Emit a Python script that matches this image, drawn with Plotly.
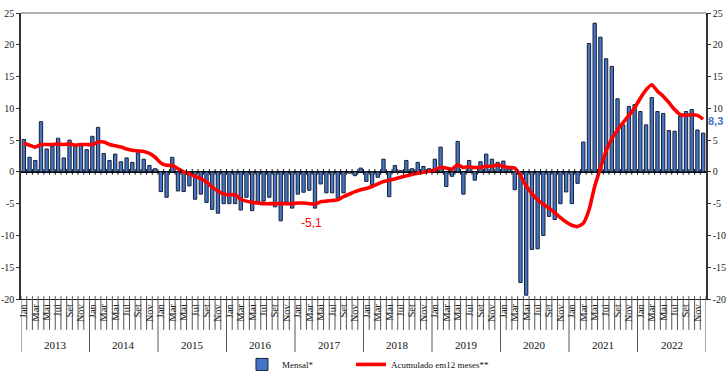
import plotly.graph_objects as go

month_names = ["Jan", "Fev", "Mar", "Abr", "Mai", "Jun", "Jul", "Ago", "Set", "Out", "Nov", "Dez"]
years = [2013, 2014, 2015, 2016, 2017, 2018, 2019, 2020, 2021, 2022]

mensal_2013 = [5.1, 2.3, 1.8, 7.9, 3.6, 4.0, 5.3, 2.2, 5.0, 4.0, 4.2, 3.5]
mensal_2014 = [5.6, 7.0, 2.9, 1.8, 2.8, 1.6, 2.2, 1.5, 3.0, 2.0, 1.0, 0.5]
mensal_2015 = [-3.1, -4.0, 2.3, -3.0, -3.1, -2.2, -4.3, -3.5, -4.8, -5.9, -6.5, -5.0]
mensal_2016 = [-5.0, -5.0, -6.0, -4.0, -6.1, -4.9, -4.6, -4.0, -5.5, -7.7, -4.8, -5.7]
mensal_2017 = [-3.5, -3.2, -2.9, -5.7, -1.9, -3.3, -3.3, -4.1, -3.3, -0.2, -0.6, 0.6]
mensal_2018 = [-1.5, -2.0, -0.85, 2.0, -3.9, 1.0, 0.2, 1.8, 0.5, 1.5, 0.85, 0.5]
mensal_2019 = [2.0, 3.9, -2.3, -0.7, 4.8, -3.5, 1.8, -1.3, 1.6, 2.8, 2.0, 1.5]
mensal_2020 = [1.7, 0.6, -2.8, -17.4, -19.4, -12.2, -12.1, -10.0, -7.0, -7.5, -5.0, -3.15]
mensal_2021 = [-5.0, -1.8, 4.7, 20.2, 23.4, 21.2, 17.8, 16.6, 11.5, 7.4, 10.3, 10.6]
mensal_2022 = [9.5, 7.4, 11.7, 9.5, 9.2, 6.5, 6.4, 8.8, 9.5, 9.8, 6.6, 6.1]

acum_2013 = [4.5, 4.2, 3.9, 4.3, 4.3, 4.3, 4.4, 4.3, 4.4, 4.2, 4.3, 4.3]
acum_2014 = [4.3, 4.7, 4.7, 4.3, 4.1, 3.9, 3.6, 3.4, 3.3, 3.2, 2.9, 2.3]
acum_2015 = [1.4, 1.05, 1.0, 0.5, 0.0, -0.3, -0.7, -1.05, -1.6, -2.4, -3.0, -3.5]
acum_2016 = [-3.6, -3.6, -4.3, -4.6, -4.8, -4.9, -5.0, -5.0, -5.0, -5.0, -5.0, -5.0]
acum_2017 = [-4.9, -4.9, -5.0, -5.1, -4.7, -4.6, -4.5, -4.4, -3.9, -3.5, -3.1, -2.8]
acum_2018 = [-2.6, -2.3, -1.9, -1.5, -1.3, -1.1, -0.85, -0.6, -0.4, -0.2, -0.05, 0.1]
acum_2019 = [0.3, 0.7, 0.6, 0.4, 1.1, 0.7, 0.8, 0.7, 0.7, 0.9, 0.85, 1.1]
acum_2020 = [0.85, 0.7, 0.6, -0.6, -2.2, -3.4, -4.4, -5.1, -5.7, -6.4, -7.2, -7.9]
acum_2021 = [-8.4, -8.6, -8.1, -6.0, -2.3, 0.6, 3.3, 5.2, 6.6, 7.8, 8.9, 10.1]
acum_2022 = [11.6, 12.9, 13.7, 12.7, 11.9, 10.9, 9.8, 9.0, 8.9, 9.0, 8.9, 8.3]

month_labels_shown = ["Jan", "Mar", "Mai", "Jul", "Set", "Nov"]
y_ticks = [-20, -15, -10, -5, 0, 5, 10, 15, 20, 25]
labelled_points = [("Abr", 2017, "#FF0000"), ("Dez", 2022, "#4472C4")]

mensal = (mensal_2013 + mensal_2014 + mensal_2015 + mensal_2016 + mensal_2017 +
          mensal_2018 + mensal_2019 + mensal_2020 + mensal_2021 + mensal_2022)
acum = (acum_2013 + acum_2014 + acum_2015 + acum_2016 + acum_2017 +
        acum_2018 + acum_2019 + acum_2020 + acum_2021 + acum_2022)
n = len(mensal)
xs = list(range(n))
full_names = [f"{month_names[i % 12]} {years[i // 12]}" for i in xs]

SERIF = "Liberation Serif"

fig = go.Figure()
fig.add_trace(go.Bar(
    x=xs, y=mensal, name="Mensal*", width=0.58, legend="legend",
    marker=dict(color="#4675C6", line=dict(color="#16203A", width=1)),
    hovertext=full_names,
))
fig.add_trace(go.Scatter(
    x=xs, y=acum, name="Acumulado em12 meses**", mode="lines", legend="legend2",
    line=dict(color="#FF0000", width=3.6, shape="spline", smoothing=0.5),
    hovertext=full_names,
))
fig.add_trace(go.Scatter(x=[xs[0]], y=[None], yaxis="y2", showlegend=False, hoverinfo="skip"))

tickvals = [i for i in xs if month_names[i % 12] in month_labels_shown]
ticktext = [month_names[i % 12] for i in tickvals]

shapes = []
month_bottom = -0.108
year_bottom = -0.185
for b in range(n + 1):
    xb = b - 0.5
    is_year = (b % 12 == 0)
    shapes.append(dict(type="line", xref="x", yref="paper", x0=xb, x1=xb,
                       y0=year_bottom if is_year else month_bottom, y1=0.010,
                       line=dict(color="#555555", width=1)))
    if 0 < b < n:
        shapes.append(dict(type="line", xref="x", yref="y", x0=xb, x1=xb,
                           y0=-0.45, y1=0.45, line=dict(color="#111111", width=1)))
shapes.append(dict(type="line", xref="paper", yref="paper", x0=0, x1=1, y0=1, y1=1,
                   line=dict(color="#999999", width=1.5)))

annotations = []
for k, yr in enumerate(years):
    annotations.append(dict(x=12 * k + 5.5, y=-0.161, xref="x", yref="paper",
                            xanchor="center", yanchor="middle",
                            text=str(yr), showarrow=False,
                            font=dict(family=SERIF, size=11, color="#111111")))
for (mname, yr, col) in labelled_points:
    i = years.index(yr) * 12 + month_names.index(mname)
    txt = f"{acum[i]:.1f}".replace(".", ",")
    if i == n - 1:
        annotations.append(dict(x=i, y=acum[i], xref="x", yref="y",
                                text="<b>" + txt + "</b>", showarrow=False,
                                xanchor="left", xshift=3, yshift=-2,
                                font=dict(family="Liberation Sans", size=11, color=col)))
    else:
        annotations.append(dict(x=i, y=acum[i], xref="x", yref="y",
                                text=txt, showarrow=False, yshift=-19, xshift=-3,
                                font=dict(family="Liberation Sans", size=12, color=col)))

yax = dict(range=[-20, 25], tickvals=y_ticks, ticktext=[str(v) for v in y_ticks],
           ticks="outside", ticklen=3, tickcolor="#333333", showline=True,
           linecolor="#333333", linewidth=1.5, showgrid=False, automargin=False,
           tickfont=dict(family=SERIF, size=10, color="#222222"))

leg = dict(orientation="h", y=-0.178, xanchor="left", yanchor="top",
           font=dict(family=SERIF, size=9, color="#111111"),
           itemwidth=30, bgcolor="rgba(0,0,0,0)")

fig.update_layout(
    width=728, height=380,
    margin=dict(l=21, r=22, t=13, b=81, autoexpand=False),
    paper_bgcolor="white", plot_bgcolor="white",
    bargap=0.4,
    xaxis=dict(range=[-0.5, n - 0.5], tickmode="array", tickvals=tickvals, ticktext=ticktext,
               tickangle=-90, ticks="", showline=True, linecolor="#222222", linewidth=1,
               showgrid=False, zeroline=False, automargin=False,
               tickfont=dict(family=SERIF, size=10.5, color="#111111")),
    yaxis=dict(**yax, zeroline=True, zerolinecolor="#000000", zerolinewidth=1.5),
    yaxis2=dict(**yax, overlaying="y", side="right", zeroline=False),
    shapes=shapes,
    annotations=annotations,
    showlegend=True,
    legend=dict(**leg, x=0.3226),
    legend2=dict(**leg, x=0.4818),
    hovermode="x",
)

fig.write_html("out.html", config={"displayModeBar": False},
               post_script="document.body.style.margin='0';document.body.style.overflow='hidden';")
